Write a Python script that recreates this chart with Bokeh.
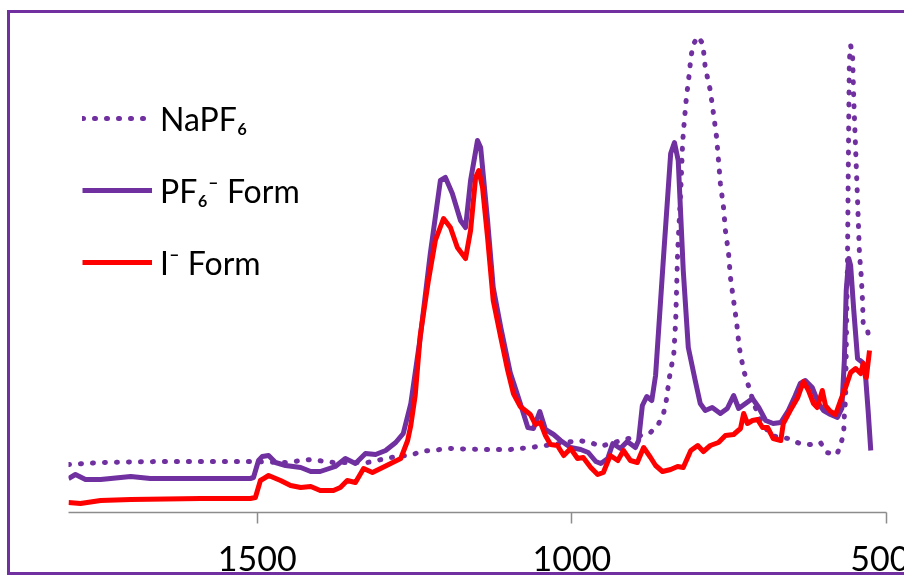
from bokeh.plotting import figure
from bokeh.models import FixedTicker, Range1d, Legend, LegendItem
from bokeh.embed import file_html
from bokeh.resources import INLINE

# Wavenumber (cm-1) and absorbance (a.u.)
napf6_wn = [1800, 1749, 1654, 1511, 1455, 1415, 1379, 1325, 1288, 1252, 1241, 1193, 1145, 1098,
            1066, 1042, 1010, 989, 970, 954, 939, 904, 891, 875, 862, 854, 850, 845, 838, 835,
            832, 827, 824, 821, 818, 813, 811, 807, 800, 792, 788, 780, 775, 770, 767, 764,
            759, 756, 751, 748, 743, 738, 734, 727, 721, 716, 711, 700, 684, 656, 638, 621,
            605, 595, 579, 573, 568, 567, 565, 564, 562, 560, 559, 557, 554, 552, 549, 546,
            543, 540, 538, 537, 530, 527]
napf6_ab = [9.6, 10.0, 10.2, 10.2, 10.0, 10.6, 10.0, 10.0, 11.0, 11.6, 12.2, 12.8, 12.6, 12.6,
            13.0, 13.4, 14.0, 14.4, 14.0, 13.2, 13.8, 15.0, 15.4, 16.0, 17.8, 20.0, 22.4, 27.0,
            31.8, 38.4, 51.8, 64.4, 74.0, 78.8, 83.0, 88.2, 91.0, 93.6, 95.2, 93.8, 89.0, 84.4,
            79.8, 75.0, 70.4, 65.8, 61.0, 56.4, 51.8, 47.0, 42.4, 37.8, 33.0, 28.4, 26.0, 24.0,
            21.8, 18.4, 15.4, 14.8, 13.8, 13.6, 14.0, 12.0, 11.6, 13.4, 16.0, 19.4, 22.8, 32.4,
            50.4, 78.4, 90.4, 93.4, 91.8, 82.4, 72.4, 62.4, 51.8, 47.0, 42.0, 37.6, 36.4, 34.0]

pf6_wn = [1800, 1789, 1773, 1749, 1701, 1670, 1590, 1511, 1506, 1498, 1492, 1482, 1471, 1455,
          1431, 1415, 1400, 1376, 1360, 1344, 1328, 1312, 1296, 1280, 1268, 1256, 1241, 1225,
          1209, 1201, 1190, 1177, 1169, 1161, 1150, 1145, 1134, 1125, 1113, 1098, 1082, 1070,
          1061, 1051, 1042, 1029, 1018, 1002, 986, 974, 962, 954, 943, 935, 923, 912, 899, 894,
          888, 881, 873, 867, 854, 843, 837, 831, 823, 815, 804, 796, 788, 777, 764, 753, 743,
          735, 724, 713, 703, 692, 680, 668, 656, 645, 637, 629, 618, 608, 600, 589, 578, 571,
          567, 564, 560, 557, 552, 546, 538, 533, 529, 525]
pf6_ab = [6.8, 7.6, 6.6, 6.6, 7.2, 6.8, 6.8, 6.8, 7.0, 10.4, 11.2, 11.4, 10.0, 9.4, 9.0, 8.2,
          8.2, 9.2, 10.8, 9.8, 11.8, 11.6, 12.4, 14.0, 15.8, 21.8, 35.0, 51.8, 66.4, 67.0, 63.8,
          58.4, 57.0, 66.4, 74.4, 73.0, 58.4, 45.0, 37.0, 28.0, 21.8, 17.0, 16.8, 20.2, 16.6,
          15.6, 14.4, 13.0, 12.6, 12.0, 10.2, 9.8, 10.8, 13.8, 12.8, 14.2, 13.0, 14.4, 21.4,
          23.2, 22.4, 27.4, 51.8, 71.8, 74.0, 70.4, 48.4, 33.0, 26.4, 21.8, 20.4, 21.0, 19.8,
          20.8, 23.4, 20.8, 21.8, 22.8, 21.0, 18.4, 17.8, 18.0, 20.4, 23.4, 25.8, 26.4, 25.0,
          21.8, 20.4, 19.6, 19.0, 20.8, 30.4, 44.4, 50.8, 49.4, 40.4, 30.8, 30.0, 26.8, 20.0,
          12.4]

i_wn = [1800, 1781, 1749, 1701, 1590, 1511, 1503, 1495, 1482, 1463, 1447, 1431, 1415, 1400,
        1379, 1368, 1357, 1344, 1331, 1317, 1304, 1288, 1272, 1261, 1256, 1249, 1241, 1228,
        1217, 1204, 1193, 1182, 1169, 1161, 1153, 1148, 1142, 1134, 1125, 1113, 1102, 1093,
        1082, 1070, 1066, 1058, 1050, 1042, 1034, 1023, 1013, 1002, 991, 982, 970, 959, 950,
        939, 927, 918, 907, 896, 886, 875, 867, 856, 843, 832, 823, 811, 800, 791, 780, 767,
        756, 743, 732, 727, 721, 713, 705, 697, 689, 680, 668, 664, 653, 641, 632, 624, 616,
        610, 602, 597, 589, 581, 573, 565, 557, 549, 541, 537, 532, 527]
i_ab = [2.0, 1.8, 2.4, 2.6, 2.8, 2.8, 3.0, 6.4, 7.4, 6.4, 5.4, 5.0, 5.2, 4.4, 4.4, 5.0, 6.4,
        6.0, 8.8, 8.0, 8.8, 9.8, 10.8, 14.4, 17.4, 23.4, 35.4, 46.4, 54.4, 58.8, 57.0, 53.0,
        50.8, 56.4, 67.0, 68.4, 65.0, 55.0, 42.4, 35.0, 28.4, 23.8, 21.2, 20.0, 19.6, 17.6,
        18.0, 15.4, 13.6, 13.4, 11.4, 12.8, 10.8, 11.0, 9.0, 7.6, 8.0, 11.4, 10.4, 12.4, 10.4,
        10.0, 13.0, 11.0, 9.4, 8.2, 8.6, 9.2, 9.0, 12.4, 13.4, 12.2, 13.4, 14.0, 15.4, 15.6,
        16.8, 19.8, 17.8, 18.4, 18.6, 17.0, 17.0, 14.8, 14.4, 17.8, 20.4, 23.0, 26.2, 24.4,
        21.8, 21.0, 24.4, 21.4, 20.2, 19.6, 22.4, 25.0, 28.0, 28.8, 27.8, 29.8, 27.0, 32.4]

x_ticks = [1500, 1000, 500]
labels = ["NaPF\u2086", "PF\u2086\u207b Form", "I\u207b Form"]

PURPLE = "#7030A0"
RED = "#FF0000"

p = figure(width=905, height=565, output_backend="svg", toolbar_location=None,
           x_range=Range1d(1800, 500), y_range=Range1d(0, 99),
           min_border_left=58, min_border_right=29, min_border_top=4, min_border_bottom=66,
           styles={"position": "fixed", "left": "7px", "top": "10px",
                   "border-style": "solid", "border-color": PURPLE,
                   "border-width": "3px 3px 3px 3px", "overflow": "hidden"})
p.outline_line_color = None
p.grid.visible = False
p.yaxis.visible = False

r1 = p.line(napf6_wn, napf6_ab, line_color=PURPLE, line_width=5, line_dash="1 11",
            line_cap="round")
r2 = p.line(pf6_wn, pf6_ab, line_color=PURPLE, line_width=5, line_join="round")
r3 = p.line(i_wn, i_ab, line_color=RED, line_width=5, line_join="round")

ax = p.xaxis[0]
ax.ticker = FixedTicker(ticks=x_ticks)
ax.minor_tick_line_color = None
ax.axis_line_color = "#8c8c8c"
ax.axis_line_width = 1.5
ax.major_tick_line_color = "#8c8c8c"
ax.major_tick_line_width = 1.5
ax.major_tick_in = 0
ax.major_tick_out = 11
ax.major_label_standoff = 22
ax.major_label_text_font = "Lato"
ax.major_label_text_font_size = "34px"
ax.major_label_text_color = "black"

legend = Legend(items=[LegendItem(label=labels[0], renderers=[r1]),
                       LegendItem(label=labels[1], renderers=[r2]),
                       LegendItem(label=labels[2], renderers=[r3])],
                location=(14, 230), orientation="vertical",
                glyph_width=70, glyph_height=40, label_height=40, spacing=32,
                label_standoff=8, padding=0, margin=0,
                label_text_font="Lato", label_text_font_size="32px",
                label_text_color="black",
                border_line_color=None, background_fill_alpha=0)
p.add_layout(legend, "center")

open("out.html", "w").write(file_html(p, INLINE))
